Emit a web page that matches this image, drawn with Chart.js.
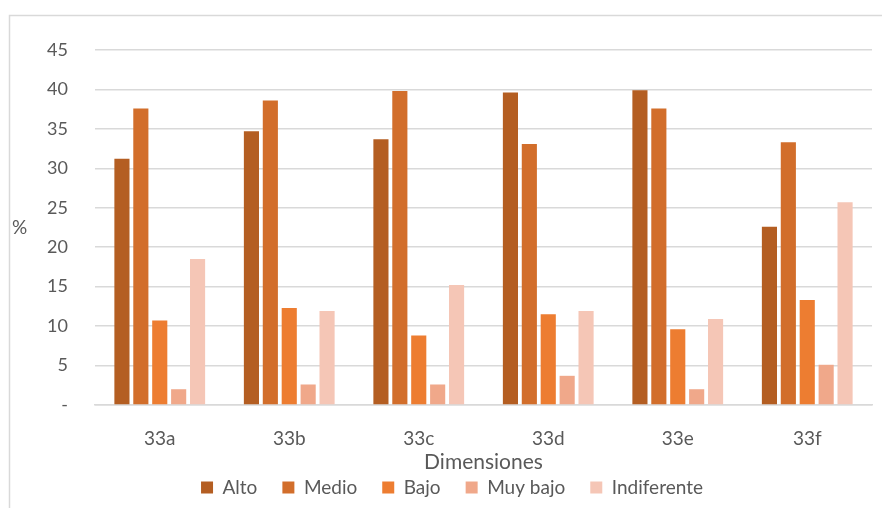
<!DOCTYPE html>
<html>
<head>
<meta charset="utf-8">
<script src="https://cdn.jsdelivr.net/npm/chart.js@4/dist/chart.umd.min.js"></script>
<style>
  html, body { margin: 0; padding: 0; background: #fff; }
  #wrap { width: 882px; height: 508px; position: relative; }
</style>
</head>
<body>
<div id="wrap"><canvas id="chart"></canvas></div>
<script>
// Datos
const categories = ['33a', '33b', '33c', '33d', '33e', '33f'];
const alto = [31.2, 34.7, 33.7, 39.6, 39.9, 22.6];
const medio = [37.6, 38.6, 39.8, 33.1, 37.6, 33.3];
const bajo = [10.7, 12.3, 8.8, 11.5, 9.6, 13.3];
const muyBajo = [2.0, 2.6, 2.6, 3.7, 2.0, 5.1];
const indiferente = [18.5, 11.9, 15.2, 11.9, 10.9, 25.7];
const yTicks = [0, 5, 10, 15, 20, 25, 30, 35, 40, 45];

const FONT = 'Lato, "Open Sans", sans-serif';
const TEXT = '#595959';

// Marco del gráfico, etiqueta "%" sin rotar y leyenda algo desplazada a la derecha
const extras = {
  id: 'extras',
  afterLayout(chart) {
    chart.legend.left += 16;
    chart.legend.right += 16;
  },
  beforeDraw(chart) {
    const ctx = chart.ctx;
    ctx.save();
    ctx.strokeStyle = '#d9d9d9';
    ctx.lineWidth = 1.5;
    ctx.beginPath();
    ctx.moveTo(9.5, 508);
    ctx.lineTo(9.5, 15.5);
    ctx.lineTo(882, 15.5);
    ctx.stroke();
    ctx.restore();
  },
  afterDraw(chart) {
    const ctx = chart.ctx;
    ctx.save();
    ctx.fillStyle = TEXT;
    ctx.font = '19px ' + FONT;
    ctx.textAlign = 'left';
    ctx.textBaseline = 'middle';
    ctx.fillText('%', 12, 228);
    ctx.restore();
  }
};

const mk = (label, data, color) => ({
  label, data,
  backgroundColor: color,
  borderWidth: 0,
  categoryPercentage: 0.73,
  barPercentage: 0.8
});

new Chart(document.getElementById('chart'), {
  type: 'bar',
  data: {
    labels: categories,
    datasets: [
      mk('Alto', alto, '#b45e22'),
      mk('Medio', medio, '#d26e2b'),
      mk('Bajo', bajo, '#ed7d31'),
      mk('Muy bajo', muyBajo, '#f0a88a'),
      mk('Indiferente', indiferente, '#f5c6b6')
    ]
  },
  options: {
    responsive: true,
    maintainAspectRatio: false,
    animation: false,
    layout: { padding: { left: 0, right: 10, top: 50, bottom: 1 } },
    plugins: {
      legend: {
        position: 'bottom',
        labels: {
          color: TEXT,
          boxWidth: 12,
          boxHeight: 12,
          padding: 25,
          font: { family: FONT, size: 19 }
        }
      },
      tooltip: { enabled: false }
    },
    scales: {
      x: {
        grid: { display: false },
        border: { color: '#d9d9d9', width: 1.5 },
        ticks: { color: TEXT, font: { family: FONT, size: 19 }, padding: 14 },
        title: {
          display: true,
          text: 'Dimensiones',
          color: TEXT,
          font: { family: FONT, size: 21 },
          padding: { top: -14, bottom: -22 }
        }
      },
      y: {
        min: 0,
        max: 45,
        afterBuildTicks(scale) { scale.ticks = yTicks.map(v => ({ value: v })); },
        afterFit(scale) { scale.width = 95; },
        grid: { color: '#d9d9d9', lineWidth: 1.5, drawTicks: false },
        border: { display: false },
        ticks: {
          color: TEXT,
          font: { family: FONT, size: 18 },
          padding: 27,
          callback: v => v === 0 ? '-' : v
        }
      }
    }
  },
  plugins: [extras]
});
</script>
</body>
</html>
